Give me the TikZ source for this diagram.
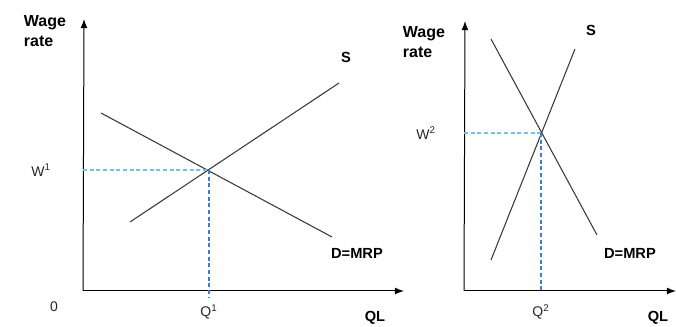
\documentclass[tikz,border=0pt]{standalone}
\usepackage{fontspec}
\setmainfont{Liberation Sans}
\usetikzlibrary{arrows.meta, positioning, calc}
\definecolor{ink}{HTML}{3A3A3A}
\definecolor{guideh}{HTML}{72C2E2}
\definecolor{guidev}{HTML}{3F7DD0}

\begin{document}
\begin{tikzpicture}[x=0.75pt, y=-0.75pt,
      axis/.style={-{Latex[length=2.4mm, width=1.8mm]}, black, line width=0.75pt},
      curve/.style={ink, line width=0.8pt},
      hguide/.style={guideh, dash pattern=on 3pt off 2pt, line width=0.8pt},
      vguide/.style={guidev, dash pattern=on 3pt off 2pt, line width=0.8pt},
      lbl/.style={font=\fontsize{10.5}{12}\selectfont, inner sep=0pt, text=black!85},
      blbl/.style={font=\fontsize{11}{12}\selectfont\bfseries, inner sep=0pt},
      ylbl/.style={font=\fontsize{12}{15.5}\selectfont\bfseries, inner sep=0pt, align=left}]
    \useasboundingbox (0,0) rectangle (676,327);
    % left graph
    \coordinate (o1) at (83,291);
    \coordinate (yt1) at (84,19);
    \coordinate (xe1) at (404,291);
    \coordinate (e1) at (209,170);
    \draw[axis] (o1) -- (yt1);
    \draw[axis] (o1) -- (xe1);
    \coordinate (d1a) at (101,113);\coordinate (d1b) at (332,237);
    \coordinate (s1a) at (130,222);\coordinate (s1b) at (339,83);
    \draw[curve] (d1a) -- (d1b);
    \draw[curve] (s1a) -- (s1b);
    \coordinate (w1y) at (83,170);\coordinate (q1x) at (209,297);
    \draw[hguide] (w1y) -- (e1);
    \draw[vguide] (e1) -- (q1x);
    \node[ylbl] (wage1) at (45,31) {Wage\\rate};
    \node[lbl] (w1) at (41,170) {W\textsuperscript{1}};
    \node[lbl] (zero) at (54,307) {0};
    \node[lbl] (q1) at (209,312) {Q\textsuperscript{1}};
    \node[blbl] (s1) at (346,57) {S};
    \node[blbl] (d1) at (357,253) {D=MRP};
    \node[blbl] (ql1) at (375,318) {QL};
    % right graph
    \coordinate (o2) at (464,291);
    \coordinate (yt2) at (465,21);
    \coordinate (xe2) at (676,291);
    \coordinate (e2) at (541,133);
    \draw[axis] (o2) -- (yt2);
    \draw[axis] (o2) -- (xe2);
    \coordinate (d2a) at (491,39);\coordinate (d2b) at (597,235);
    \coordinate (s2a) at (491,260);\coordinate (s2b) at (575,49);
    \draw[curve] (d2a) -- (d2b);
    \draw[curve] (s2a) -- (s2b);
    \coordinate (w2y) at (464,133);\coordinate (q2x) at (541,291);
    \draw[hguide] (w2y) -- (e2);
    \draw[vguide] (e2) -- (q2x);
    \node[ylbl] (wage2) at (424,42) {Wage\\rate};
    \node[lbl] (w2) at (426,133) {W\textsuperscript{2}};
    \node[lbl] (q2) at (541,312) {Q\textsuperscript{2}};
    \node[blbl] (s2) at (591,30) {S};
    \node[blbl] (d2) at (630,253) {D=MRP};
    \node[blbl] (ql2) at (658,318) {QL};
\end{tikzpicture}
\end{document}
